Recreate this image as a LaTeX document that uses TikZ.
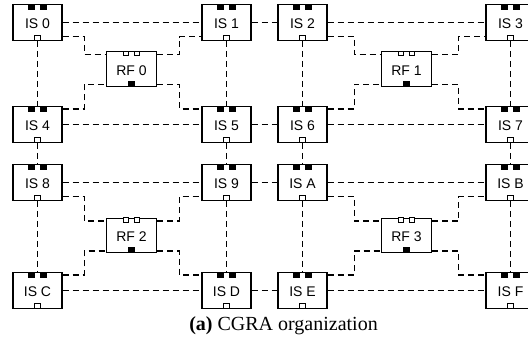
\documentclass[tikz,border=0pt]{standalone}
\usepackage{fontspec}
\setmainfont{Liberation Serif}
\setsansfont{Liberation Sans}
\usetikzlibrary{calc}
\begin{document}
\begin{tikzpicture}[x=1pt,y=-1pt,
  blk/.style={draw,line width=1.2pt,fill=white,inner sep=0pt,
    text height=12.5pt,text depth=0pt,
    font=\sffamily\fontsize{14}{16}\selectfont},
  isbox/.style={blk,minimum width=49pt,minimum height=35.5pt},
  rfbox/.style={blk,minimum width=50pt,minimum height=34.5pt},
  conn/.style={line width=1.35pt,dash pattern=on 6pt off 4pt},
  elbow/.style={to path={-| ($(\tikztostart)!0.5!(\tikztotarget)$) |- (\tikztotarget)}},
  openport/.style={draw,fill=white,line width=0.8pt},
  fullport/.style={fill=black}]
\useasboundingbox (0,0) rectangle (528,347);
\clip (0,0) rectangle (528,347);
% IS nodes
\foreach \n/\x/\y in {0/37.5/22.5,1/226.5/22.5,2/302.5/22.5,3/510.5/22.5,
                       4/37.5/124.5,5/226.5/124.5,6/302.5/124.5,7/510.5/124.5,
                       8/37.5/182.5,9/226.5/182.5,A/302.5/182.5,B/510.5/182.5,
                       C/37.5/290.5,D/226.5/290.5,E/302.5/290.5,F/510.5/290.5}
  \node[isbox] (is\n) at (\x,\y) {IS \n};
% RF nodes
\foreach \n/\x/\y in {0/131.5/69,1/406.5/69,2/131.5/235.5,3/406.5/235.5}
  \node[rfbox] (rf\n) at (\x,\y) {RF \n};
% horizontal IS links
\foreach \a/\b in {0/1,1/2,2/3,4/5,5/6,6/7,8/9,9/A,A/B,C/D,D/E,E/F}
  \draw[conn] (is\a) -- (is\b);
% vertical IS links
\foreach \a/\b in {0/4,4/8,8/C,1/5,5/9,9/D,2/6,6/A,A/E,3/7,7/B,B/F}
  \draw[conn] (is\a.south) -- (is\b.north);
% RF links
\foreach \r/\tl/\tr/\bl/\br in {0/0/1/4/5,1/2/3/6/7,2/8/9/C/D,3/A/B/E/F}{
  \draw[conn] ([yshift=4.3pt]is\tl.south east) to[elbow] ([yshift=-3.3pt]rf\r.north west);
  \draw[conn] ([yshift=-3.3pt]rf\r.north east) to[elbow] ([yshift=4.3pt]is\tr.south west);
  \draw[conn] ([yshift=-2.7pt]is\bl.north east) to[elbow] ([yshift=2.5pt]rf\r.south west);
  \draw[conn] ([yshift=2.5pt]rf\r.south east) to[elbow] ([yshift=-2.7pt]is\br.north west);
}
% IS ports
\foreach \n in {0,1,2,3,4,5,6,7,8,9,A,B,C,D,E,F}{
  \fill[fullport] ([xshift=-9.5pt]is\n.north) rectangle ([xshift=-2.5pt,yshift=-5.5pt]is\n.north);
  \fill[fullport] ([xshift=2.5pt]is\n.north) rectangle ([xshift=9.5pt,yshift=-5.5pt]is\n.north);
  \draw[openport] ([xshift=-3pt]is\n.south) rectangle ([xshift=3pt,yshift=5pt]is\n.south);
}
% RF ports
\foreach \n in {0,1,2,3}{
  \draw[openport] ([xshift=-8pt]rf\n.north) rectangle ([xshift=-3pt,yshift=-4.5pt]rf\n.north);
  \draw[openport] ([xshift=3pt]rf\n.north) rectangle ([xshift=8pt,yshift=-4.5pt]rf\n.north);
  \fill[fullport] ([xshift=-3.5pt]rf\n.south) rectangle ([xshift=3.5pt,yshift=6pt]rf\n.south);
}
% caption
\node[anchor=base,font=\fontsize{20}{23}\selectfont,inner sep=0pt] (cap) at (283.5,331) {\textbf{(a)} CGRA organization};
\end{tikzpicture}
\end{document}
